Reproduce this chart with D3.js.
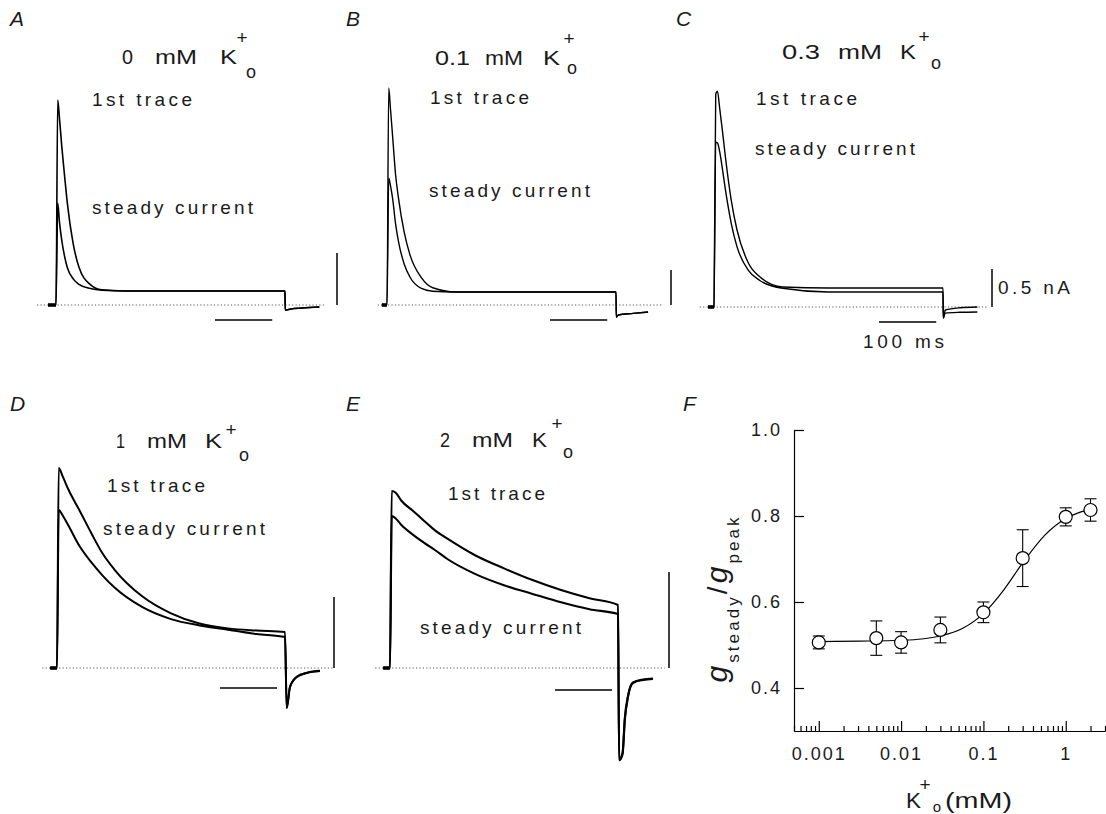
<!DOCTYPE html>
<html><head><meta charset="utf-8">
<script src="https://cdnjs.cloudflare.com/ajax/libs/d3/7.8.5/d3.min.js"></script>
<style>body{margin:0;background:#fff}svg{display:block}</style>
</head><body>
<svg id="c" width="1106" height="814"></svg>
<script>
// ---------- DATA ----------
const panelLetters = ["A", "B", "C", "D", "E"];
const concLabels = ["0", "0.1", "0.3", "1", "2"]; // mM K+o
const tFast = [0, 3, 6, 10, 15, 20, 30, 40, 60, 80, 120, 200, 300, 400]; // ms
const tSlow = [0, 3, 10, 20, 40, 60, 80, 100, 150, 200, 250, 300, 350, 400]; // ms

const firstA  = [0, 1.97, 1.80, 1.53, 1.24, 0.97, 0.59, 0.365, 0.196, 0.146, 0.135, 0.135, 0.135, 0.135];
const steadyA = [0, 0.98, 0.80, 0.625, 0.467, 0.356, 0.251, 0.198, 0.158, 0.142, 0.135, 0.135, 0.135, 0.135];
const firstB  = [0, 3.10, 2.81, 2.39, 1.86, 1.53, 1.04, 0.72, 0.39, 0.246, 0.186, 0.186, 0.186, 0.186];
const steadyB = [0, 1.81, 1.71, 1.51, 1.16, 0.91, 0.586, 0.40, 0.237, 0.197, 0.186, 0.186, 0.186, 0.186];
const firstC  = [0, 2.80, 2.84, 2.61, 2.30, 1.97, 1.41, 1.02, 0.579, 0.397, 0.263, 0.25, 0.25, 0.25];
const steadyC = [0, 2.17, 2.16, 2.04, 1.80, 1.54, 1.105, 0.797, 0.482, 0.349, 0.246, 0.197, 0.197, 0.197];
const firstD  = [0, 1.408, 1.349, 1.257, 1.106, 0.951, 0.806, 0.697, 0.503, 0.385, 0.313, 0.279, 0.264, 0.254];
const steadyD = [0, 1.113, 1.074, 1.003, 0.855, 0.745, 0.651, 0.570, 0.428, 0.344, 0.300, 0.270, 0.239, 0.218];
const firstE  = [0, 0.922, 0.913, 0.871, 0.819, 0.766, 0.714, 0.675, 0.586, 0.519, 0.458, 0.406, 0.363, 0.328];
const steadyE = [0, 0.792, 0.779, 0.745, 0.695, 0.652, 0.612, 0.569, 0.489, 0.431, 0.386, 0.342, 0.306, 0.281];

const tailTA = [400.5, 410, 430, 460];
const tailA1 = [-0.048, -0.038, -0.029, -0.019];
const tailA2 = [-0.048, -0.038, -0.029, -0.019];
const tailTB = [400.5, 404, 430, 456];
const tailB1 = [-0.171, -0.143, -0.12, -0.10];
const tailB2 = [-0.171, -0.143, -0.12, -0.10];
const tailTC = [400.5, 404, 430, 460];
const tailC1 = [-0.145, -0.04, -0.01, 0.0];
const tailC2 = [-0.145, -0.08, -0.07, -0.066];
const tailTD = [403, 408.8, 421, 438.6, 461.4];
const tailD1 = [-0.282, -0.134, -0.063, -0.035, -0.021];
const tailD2 = [-0.282, -0.13, -0.06, -0.033, -0.02];
const tailTE = [402, 408, 412, 417.5, 426.3, 443.9, 461.4];
const tailE1 = [-0.48, -0.45, -0.271, -0.151, -0.078, -0.0625, -0.057];
const tailE2 = [-0.48, -0.44, -0.26, -0.145, -0.075, -0.06, -0.055];

// Panel F
const kConc = [0.001, 0.005, 0.01, 0.03, 0.1, 0.3, 1, 2];
const gRatio = [0.506, 0.516, 0.506, 0.535, 0.576, 0.702, 0.798, 0.814];
const gSem = [0.015, 0.04, 0.025, 0.03, 0.024, 0.066, 0.021, 0.026];
const fitX = [0.001, 0.00316, 0.01, 0.0178, 0.03, 0.0562, 0.1, 0.178, 0.3, 0.562, 1, 1.5, 2];
const fitY = [0.508, 0.509, 0.511, 0.514, 0.521, 0.539, 0.573, 0.629, 0.691, 0.756, 0.794, 0.809, 0.816];
const xTickVals = [0.001, 0.01, 0.1, 1];
const xTickLabels = ["0.001", "0.01", "0.1", "1"];
const yTickVals = [0.4, 0.6, 0.8, 1.0];
const yTickLabels = ["0.4", "0.6", "0.8", "1.0"];

// ---------- LAYOUT ----------
const FONT = "'Liberation Sans', Arial, sans-serif";
const INK = "#1a1a1a";
const layout = [
  {x0: 56, base: 305, k: 0.5725, pxNa: 104, dot: [-33, 470], pre: -14, t: tFast, f: firstA, s: steadyA, tt: tailTA, t1: tailA1, t2: tailA2,
   tbar: 277.7, tbarDy: 15, vbarX: 337, sw: 1.6,
   letter: [10, 26], title: {y: 64, w: [[122, 11], [155, 42], [220, 17]], px: 242, py: 44, ox: 251, oy: 78},
   lab1: [92, 106, 100], lab2: [92, 214, 161]},
  {x0: 387, base: 305, k: 0.5725, pxNa: 70, dot: [-16, 480], pre: -9, t: tFast, f: firstB, s: steadyB, tt: tailTB, t1: tailB1, t2: tailB2,
   tbar: 284.7, tbarDy: 15, vbarX: 671, sw: 1.4,
   letter: [346, 26], title: {y: 65, w: [[435, 35], [485, 38], [543, 17]], px: 569, py: 45, ox: 572, oy: 74},
   lab1: [430, 104, 99], lab2: [429, 197, 161]},
  {x0: 714, base: 307, k: 0.5725, pxNa: 76, dot: [-25, 477], pre: -10.5, t: tFast, f: firstC, s: steadyC, tt: tailTC, t1: tailC1, t2: tailC2,
   tbar: 288.2, tbarDy: 15, vbarX: 992, sw: 1.4,
   letter: [676, 26], title: {y: 59, w: [[782, 38], [838, 44], [900, 16]], px: 924, py: 43, ox: 936, oy: 69},
   lab1: [756, 105, 101], lab2: [755, 155, 160]},
  {x0: 57, base: 668, k: 0.57, pxNa: 142, dot: [-26, 484], pre: -12, t: tSlow, f: firstD, s: steadyD, tt: tailTD, t1: tailD1, t2: tailD2,
   tbar: 286, tbarDy: 20, vbarX: 334, sw: 2.0,
   letter: [10, 411], title: {y: 448, w: [[116, 9], [147, 40], [205, 17]], px: 231, py: 436, ox: 244, oy: 461},
   lab1: [107, 492, 98], lab2: [103, 535, 162]},
  {x0: 390, base: 668, k: 0.57, pxNa: 192, dot: [-26, 482], pre: -12, t: tSlow, f: firstE, s: steadyE, tt: tailTE, t1: tailE1, t2: tailE2,
   tbar: 289.5, tbarDy: 22, vbarX: 669, sw: 2.1,
   letter: [346, 411], title: {y: 447, w: [[440, 10], [472, 41], [532, 15]], px: 557, py: 430, ox: 568, oy: 458},
   lab1: [448, 500, 97], lab2: [420, 634, 161]}
];

const svg = d3.select("#c");

function txt(x, y, str, size, len, opts = {}) {
  const t = svg.append("text").attr("x", x).attr("y", y)
    .attr("font-family", FONT).attr("font-size", size).attr("fill", INK).text(str);
  if (len) t.attr("textLength", len).attr("lengthAdjust", opts.glyphs ? "spacingAndGlyphs" : "spacing");
  if (opts.italic) t.attr("font-style", "italic");
  if (opts.anchor) t.attr("text-anchor", opts.anchor);
  return t;
}

layout.forEach((p, i) => {
  const x = d3.scaleLinear().domain([0, 400]).range([p.x0, p.x0 + 400 * p.k]);
  const y = d3.scaleLinear().domain([0, 1]).range([p.base, p.base - p.pxNa]);

  // panel letter
  txt(p.letter[0], p.letter[1], panelLetters[i], 21, null, {italic: true});
  // title, word by word
  const words = [concLabels[i], "mM", "K"];
  words.forEach((w, j) => txt(p.title.w[j][0], p.title.y, w, 20, p.title.w[j][1], {glyphs: true}));
  txt(p.title.px, p.title.py, "+", 19, null, {anchor: "middle"});
  txt(p.title.ox, p.title.oy, "o", 18, null, {anchor: "middle"});
  // labels
  txt(p.lab1[0], p.lab1[1], "1st trace", 19, p.lab1[2]);
  txt(p.lab2[0], p.lab2[1], "steady current", 19, p.lab2[2]);

  // dotted zero line
  svg.append("line").attr("x1", x(p.dot[0])).attr("x2", x(p.dot[1]))
    .attr("y1", y(0)).attr("y2", y(0))
    .attr("stroke", "#555").attr("stroke-width", 1).attr("stroke-dasharray", "1.2,2.2");

  // holding marker
  svg.append("rect").attr("x", x(p.pre)).attr("y", y(0) - 1.8)
    .attr("width", x(0) - x(p.pre)).attr("height", 3.6).attr("fill", "#000");

  const line = d3.line().x(d => x(d[0])).y(d => y(d[1])).curve(d3.curveMonotoneX);
  const mk = (vals, tail) => [[p.pre, 0]].concat(p.t.map((t, j) => [t, vals[j]]), p.tt.map((t, j) => [t, tail[j]]));
  [mk(p.s, p.t2), mk(p.f, p.t1)].forEach(pts => {
    svg.append("path").attr("d", line(pts)).attr("fill", "none")
      .attr("stroke", "#000").attr("stroke-width", p.sw).attr("stroke-linejoin", "round");
  });

  // scale bars: 100 ms and 0.5 nA
  svg.append("line").attr("x1", x(p.tbar)).attr("x2", x(p.tbar + 100))
    .attr("y1", y(0) + p.tbarDy).attr("y2", y(0) + p.tbarDy)
    .attr("stroke", "#000").attr("stroke-width", 1.3);
  svg.append("line").attr("x1", p.vbarX).attr("x2", p.vbarX)
    .attr("y1", y(0)).attr("y2", y(0.5))
    .attr("stroke", "#000").attr("stroke-width", 1.5);
});

// scale bar labels (panel C)
txt(863, 348, "100 ms", 19, 81);
txt(998, 294, "0.5 nA", 19, 72);

// ---------- PANEL F ----------
txt(683, 411, "F", 21, null, {italic: true});
const fx = d3.scaleLog().domain([0.0005, 3]).range([794, 1105]);
const fy = d3.scaleLinear().domain([0.3, 1.0]).range([731, 430]);

const gY = svg.append("g").attr("transform", "translate(794,0)")
  .call(d3.axisLeft(fy).tickValues(yTickVals).tickFormat((d, i) => yTickLabels[i])
    .tickSize(-10).tickSizeOuter(0).tickPadding(14));
const minors = [];
[-4, -3, -2, -1, 0].forEach(e => { for (let d = 2; d <= 9; d++) { const v = d * Math.pow(10, e); if (v >= 0.0005 && v <= 3) minors.push(v); } });
svg.append("g").attr("transform", "translate(0,731)")
  .call(d3.axisBottom(fx).tickValues(minors).tickFormat("").tickSize(-5).tickSizeOuter(0));
const gX = svg.append("g").attr("transform", "translate(0,731)")
  .call(d3.axisBottom(fx).tickValues(xTickVals).tickFormat((d, i) => xTickLabels[i])
    .tickSize(-10).tickSizeOuter(0).tickPadding(16));
svg.selectAll(".tick text").attr("font-family", FONT).attr("font-size", 18)
  .attr("fill", INK).attr("letter-spacing", "2px");
gY.selectAll(".tick text").attr("dx", "2px");
svg.selectAll(".domain, .tick line").attr("stroke", "#000").attr("stroke-width", 1.2);

// fit curve
svg.append("path").attr("fill", "none").attr("stroke", "#000").attr("stroke-width", 1.2)
  .attr("d", d3.line().x((d, i) => fx(fitX[i])).y(d => fy(d)).curve(d3.curveMonotoneX)(fitY));

// error bars and points
kConc.forEach((c, i) => {
  const cx = fx(c), lo = fy(gRatio[i] - gSem[i]), hi = fy(gRatio[i] + gSem[i]);
  svg.append("line").attr("x1", cx).attr("x2", cx).attr("y1", lo).attr("y2", hi).attr("stroke", "#000").attr("stroke-width", 1.1);
  [lo, hi].forEach(yy => svg.append("line").attr("x1", cx - 6).attr("x2", cx + 6).attr("y1", yy).attr("y2", yy).attr("stroke", "#000").attr("stroke-width", 1.1));
  svg.append("circle").attr("cx", cx).attr("cy", fy(gRatio[i])).attr("r", 6.5)
    .attr("fill", "#fff").attr("stroke", "#000").attr("stroke-width", 1.2);
});

// y label
const yl = svg.append("text").attr("transform", "translate(727,600) rotate(-90)")
  .attr("text-anchor", "middle").attr("font-family", FONT).attr("fill", INK)
  .attr("textLength", 165).attr("lengthAdjust", "spacing");
yl.append("tspan").attr("font-size", 30).attr("font-style", "italic").text("g");
yl.append("tspan").attr("font-size", 17).attr("dy", 12).text("steady");
yl.append("tspan").attr("font-size", 28).attr("dy", -12).text("/");
yl.append("tspan").attr("font-size", 30).attr("font-style", "italic").text("g");
yl.append("tspan").attr("font-size", 17).attr("dy", 12).text("peak");

// x label
txt(906, 808, "K", 22, 15, {glyphs: true});
txt(925, 791, "+", 19, null, {anchor: "middle"});
txt(937, 812, "o", 15, null, {anchor: "middle"});
txt(945, 808, "(mM)", 22, 67, {glyphs: true});
</script>
</body></html>
